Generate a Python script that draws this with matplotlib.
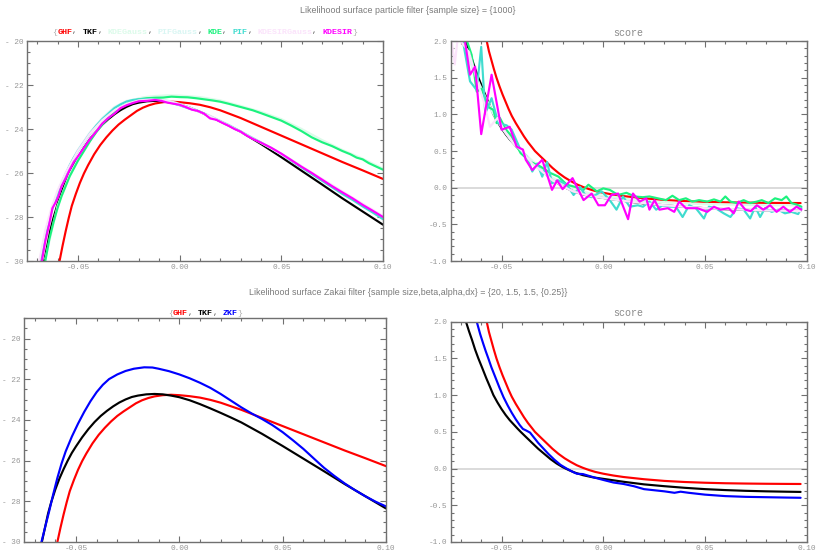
import numpy as np
import matplotlib
matplotlib.use('Agg')
import matplotlib.pyplot as plt
import matplotlib.transforms as mtransforms
from matplotlib.ticker import MultipleLocator, FixedLocator, FixedFormatter

# ---------------- data: likelihood surface (particle filter) ----------------
ghf_x = [-0.059, -0.0575, -0.056, -0.0545, -0.053, -0.051, -0.049, -0.047, -0.045, -0.042, -0.039,
         -0.036, -0.033, -0.030, -0.027, -0.024, -0.021, -0.018, -0.015, -0.012, -0.008, -0.004,
         0.000, 0.005, 0.010, 0.015, 0.020, 0.030, 0.040, 0.050, 0.060, 0.070, 0.080, 0.090, 0.100]
ghf_y = [-30.0, -29.3, -28.65, -28.05, -27.5, -26.95, -26.45, -26.02, -25.65, -25.15, -24.73,
         -24.38, -24.07, -23.8, -23.58, -23.38, -23.18, -23.03, -22.92, -22.84, -22.78, -22.76,
         -22.78, -22.83, -22.9, -23.01, -23.15, -23.5, -23.9, -24.3, -24.7, -25.1, -25.5, -25.88, -26.27]

tkf_x = [-0.0665, -0.065, -0.0635, -0.062, -0.060, -0.058, -0.056, -0.054, -0.052, -0.050, -0.047,
         -0.044, -0.041, -0.038, -0.035, -0.032, -0.029, -0.026, -0.023, -0.020, -0.016, -0.012,
         -0.008, -0.004, 0.000, 0.005, 0.010, 0.015, 0.020, 0.025, 0.030, 0.035, 0.040, 0.045,
         0.050, 0.060, 0.070, 0.080, 0.090, 0.100]
tkf_y = [-30.0, -29.3, -28.6, -28.05, -27.42, -26.88, -26.42, -26.0, -25.62, -25.3, -24.85,
         -24.45, -24.1, -23.8, -23.55, -23.33, -23.14, -22.99, -22.87, -22.8, -22.74, -22.72,
         -22.74, -22.8, -22.88, -23.03, -23.22, -23.43, -23.65, -23.88, -24.12, -24.4, -24.68, -24.98,
         -25.28, -25.9, -26.52, -27.15, -27.75, -28.35]

kdegauss_x = [-0.066, -0.060, -0.054, -0.048, -0.042, -0.036, -0.030, -0.024, -0.018, -0.012, -0.006,
              0.000, 0.010, 0.020, 0.030, 0.040, 0.050, 0.060, 0.070, 0.080, 0.090, 0.100]
kdegauss_y = [-29.9, -27.5, -26.05, -25.05, -24.2, -23.55, -23.05, -22.72, -22.56, -22.5, -22.47,
              -22.48, -22.55, -22.7, -22.95, -23.22, -23.55, -24.0, -24.5, -24.95, -25.35, -25.8]

pifgauss_x = [-0.0685, -0.062, -0.056, -0.050, -0.044, -0.038, -0.032, -0.026, -0.020, -0.014, -0.008,
              -0.002, 0.005, 0.015, 0.025, 0.035, 0.045, 0.055, 0.065, 0.075, 0.085, 0.100]
pifgauss_y = [-29.9, -27.4, -26.0, -24.95, -24.15, -23.5, -23.0, -22.72, -22.62, -22.6, -22.66,
              -22.8, -23.02, -23.4, -23.85, -24.35, -24.85, -25.4, -26.0, -26.6, -27.2, -28.05]

kde_x = [-0.066, -0.064, -0.062, -0.060, -0.058, -0.056, -0.054, -0.052, -0.050, -0.047, -0.044,
         -0.041, -0.038, -0.035, -0.032, -0.029, -0.026, -0.023, -0.020, -0.016, -0.012, -0.008,
         -0.004, 0.000, 0.004, 0.008, 0.012, 0.016, 0.020, 0.024, 0.028, 0.032, 0.036, 0.040,
         0.045, 0.050, 0.055, 0.060, 0.065, 0.070, 0.075, 0.080, 0.084, 0.087, 0.090, 0.093,
         0.096, 0.100]
kde_y = [-30.0, -29.0, -28.25, -27.6, -27.05, -26.6, -26.15, -25.8, -25.45, -25.0, -24.55,
         -24.15, -23.8, -23.5, -23.25, -23.02, -22.85, -22.72, -22.65, -22.6, -22.58, -22.57,
         -22.53, -22.55, -22.56, -22.6, -22.65, -22.7, -22.76, -22.85, -22.95, -23.05, -23.15, -23.28,
         -23.45, -23.62, -23.85, -24.1, -24.38, -24.6, -24.78, -25.0, -25.15, -25.3, -25.38, -25.55,
         -25.68, -25.85]

pif_x = [-0.0685, -0.066, -0.064, -0.062, -0.060, -0.058, -0.056, -0.054, -0.052, -0.050, -0.047,
         -0.044, -0.041, -0.038, -0.035, -0.032, -0.029, -0.026, -0.023, -0.020, -0.016, -0.012,
         -0.009, -0.006, -0.003, 0.000, 0.004, 0.008, 0.012, 0.016, 0.020, 0.024, 0.028, 0.032,
         0.036, 0.040, 0.045, 0.050, 0.055, 0.060, 0.065, 0.070, 0.075, 0.080, 0.085, 0.090,
         0.095, 0.100]
pif_y = [-30.0, -28.85, -28.1, -27.45, -26.95, -26.45, -26.05, -25.65, -25.3, -25.0, -24.6,
         -24.2, -23.85, -23.55, -23.3, -23.05, -22.88, -22.75, -22.68, -22.65, -22.64, -22.66,
         -22.7, -22.78, -22.84, -22.92, -23.05, -23.15, -23.3, -23.48, -23.65, -23.82, -24.02, -24.22,
         -24.42, -24.62, -24.88, -25.15, -25.45, -25.75, -26.05, -26.35, -26.65, -26.95, -27.22, -27.52,
         -27.8, -28.1]

kdesirgauss_x = [-0.069, -0.066, -0.063, -0.060, -0.056, -0.050, -0.044, -0.038, -0.032, -0.026,
                 -0.020, -0.014, -0.008, -0.002, 0.005, 0.015, 0.025, 0.035, 0.045, 0.055, 0.065,
                 0.075, 0.085, 0.100]
kdesirgauss_y = [-30.0, -28.6, -27.6, -26.8, -26.0, -25.0, -24.2, -23.6, -23.15, -22.85,
                 -22.7, -22.66, -22.7, -22.84, -23.05, -23.42, -23.88, -24.38, -24.88, -25.42, -25.98,
                 -26.55, -27.12, -27.95]

kdesir_x = [-0.0677, -0.066, -0.064, -0.0625, -0.061, -0.0595, -0.058, -0.056, -0.054, -0.052, -0.050,
            -0.047, -0.044, -0.041, -0.038, -0.035, -0.032, -0.029, -0.026, -0.023, -0.020, -0.016,
            -0.012, -0.009, -0.006, -0.003, 0.000, 0.003, 0.006, 0.009, 0.012, 0.015, 0.018, 0.021,
            0.024, 0.027, 0.030, 0.033, 0.036, 0.040, 0.045, 0.050, 0.055, 0.060, 0.065, 0.070,
            0.075, 0.080, 0.085, 0.090, 0.095, 0.100]
kdesir_y = [-30.0, -29.1, -28.3, -27.6, -27.35, -27.05, -26.6, -26.25, -25.85, -25.5, -25.25,
            -24.85, -24.45, -24.12, -23.75, -23.5, -23.3, -23.05, -22.92, -22.82, -22.74, -22.72,
            -22.68, -22.72, -22.8, -22.85, -22.9, -23.0, -23.12, -23.18, -23.3, -23.52, -23.58, -23.72,
            -23.85, -24.0, -24.12, -24.3, -24.45, -24.62, -24.85, -25.12, -25.42, -25.72, -26.0, -26.3,
            -26.6, -26.88, -27.15, -27.45, -27.72, -28.0]

# ---------------- data: score (particle filter) ----------------
ghf_s_x = [-0.0573, -0.0562, -0.055, -0.0538, -0.0525, -0.051, -0.0495, -0.048, -0.0465, -0.045,
           -0.043, -0.041, -0.039, -0.037, -0.035, -0.0336, -0.031, -0.028, -0.025, -0.022, -0.019,
           -0.016, -0.013, -0.010, -0.007, -0.004, 0.000, 0.005, 0.010, 0.015, 0.020, 0.030, 0.040,
           0.050, 0.060, 0.070, 0.080, 0.090, 0.097]
ghf_s_y = [2.0, 1.86, 1.74, 1.62, 1.5, 1.38, 1.27, 1.17, 1.07, 0.98,
           0.88, 0.79, 0.7, 0.62, 0.55, 0.5, 0.43, 0.35, 0.27, 0.2, 0.14,
           0.09, 0.045, 0.01, -0.02, -0.045, -0.07, -0.095, -0.115, -0.13, -0.145, -0.168, -0.183,
           -0.193, -0.2, -0.204, -0.207, -0.209, -0.21]

tkf_s_x = [-0.0675, -0.066, -0.0645, -0.063, -0.0614, -0.0595, -0.0575, -0.0555, -0.054, -0.052,
           -0.050, -0.048, -0.046, -0.044, -0.042, -0.0406, -0.038, -0.035, -0.032, -0.029, -0.026,
           -0.023, -0.020, -0.017, -0.014, -0.010, -0.005, 0.000, 0.005, 0.010, 0.020, 0.030, 0.040,
           0.050, 0.060, 0.070, 0.080, 0.090, 0.097]
tkf_s_y = [2.0, 1.87, 1.75, 1.62, 1.5, 1.37, 1.23, 1.1, 1.0, 0.9,
           0.81, 0.73, 0.66, 0.6, 0.54, 0.5, 0.43, 0.35, 0.27, 0.2, 0.13,
           0.07, 0.02, -0.02, -0.055, -0.09, -0.12, -0.14, -0.16, -0.18, -0.215, -0.24, -0.262,
           -0.28, -0.293, -0.303, -0.31, -0.315, -0.318]

kdesir_s_x = [-0.068, -0.0655, -0.063, -0.060, -0.0549, -0.050, -0.046, -0.0426, -0.0395, -0.0381,
              -0.0349, -0.030, -0.0252, -0.0227, -0.020, -0.0151, -0.0097, -0.0057, -0.0024, 0.0008,
              0.004, 0.0073, 0.0122, 0.0146, 0.0179, 0.0211, 0.0227, 0.0252, 0.0276, 0.0317, 0.0349,
              0.0373, 0.0406, 0.0463, 0.0511, 0.0544, 0.0576, 0.0617, 0.0641, 0.0666, 0.0698, 0.0725,
              0.0755, 0.0787, 0.082, 0.0852, 0.0885, 0.0917, 0.095, 0.0974]
kdesir_s_y = [2.0, 1.54, 1.65, 0.73, 1.54, 0.79, 0.83, 0.56, 0.52, 0.38,
              0.24, 0.38, -0.03, 0.10, -0.02, 0.13, -0.17, -0.08, -0.24, -0.24,
              -0.10, -0.08, -0.43, -0.08, -0.19, -0.145, -0.30, -0.17, -0.30, -0.28, -0.33,
              -0.19, -0.28, -0.28, -0.33, -0.26, -0.30, -0.28, -0.35, -0.19, -0.30, -0.32,
              -0.24, -0.30, -0.24, -0.33, -0.26, -0.33, -0.26, -0.30]

pif_s_x = [-0.069, -0.0655, -0.0622, -0.060, -0.058, -0.0549, -0.0516, -0.0475, -0.045, -0.0406,
           -0.0375, -0.0349, -0.0325, -0.030, -0.0276, -0.0252, -0.022, -0.0179, -0.0146, -0.0114,
           -0.0089, -0.0057, -0.0008, 0.0032, 0.0065, 0.0097, 0.013, 0.017, 0.0195, 0.0227, 0.026,
           0.0292, 0.0325, 0.0357, 0.039, 0.0422, 0.0455, 0.0495, 0.0519, 0.0552, 0.0592, 0.0625,
           0.0657, 0.069, 0.0722, 0.0747, 0.0771, 0.0795, 0.0828, 0.086, 0.0893, 0.0925, 0.0958, 0.0974]
pif_s_y = [2.0, 1.45, 1.33, 1.92, 1.01, 1.22, 0.88, 0.85, 0.79, 0.51,
           0.42, 0.22, 0.33, 0.15, 0.35, 0.06, 0.10, 0.04, -0.10, 0.01,
           -0.10, -0.13, -0.05, -0.17, -0.30, -0.12, -0.26, -0.24, -0.26, -0.19, -0.30,
           -0.24, -0.26, -0.26, -0.40, -0.24, -0.28, -0.42, -0.26, -0.28, -0.35, -0.40,
           -0.28, -0.30, -0.42, -0.26, -0.40, -0.28, -0.33, -0.30, -0.35, -0.33, -0.36, -0.28]

kde_s_x = [-0.067, -0.0647, -0.0622, -0.0598, -0.0565, -0.054, -0.0524, -0.0508, -0.048, -0.045,
           -0.0406, -0.0357, -0.031, -0.026, -0.022, -0.0179, -0.0138, -0.0097, -0.0073, -0.0032,
           0.0, 0.0032, 0.0073, 0.0114, 0.0154, 0.0195, 0.0227, 0.0268, 0.0308, 0.034, 0.0373,
           0.0406, 0.0438, 0.0471, 0.0511, 0.0544, 0.0576, 0.060, 0.0625, 0.0657, 0.069, 0.0722,
           0.0755, 0.0779, 0.0812, 0.0844, 0.0877, 0.090, 0.0925, 0.095, 0.0974]
kde_s_y = [2.0, 1.81, 1.31, 1.35, 1.10, 1.06, 0.88, 0.95, 0.80, 0.70,
           0.47, 0.35, 0.29, 0.20, 0.15, 0.04, 0.01, -0.03, 0.04, -0.05,
           -0.01, -0.03, -0.10, -0.07, -0.12, -0.13, -0.12, -0.145, -0.17, -0.11, -0.17,
           -0.145, -0.19, -0.17, -0.19, -0.16, -0.19, -0.12, -0.19, -0.21, -0.17, -0.21,
           -0.19, -0.17, -0.21, -0.145, -0.17, -0.12, -0.21, -0.23, -0.26]

kdesirgauss_s_x = [-0.0745, -0.073, -0.0715, -0.066, -0.062, -0.0585, -0.0557, -0.052, -0.048, -0.044,
                   -0.040, -0.035, -0.030, -0.025, -0.020, -0.015, -0.010, -0.005, 0.0, 0.01, 0.02,
                   0.03, 0.04, 0.05, 0.06, 0.07, 0.08, 0.09, 0.097]
kdesirgauss_s_y = [2.0, 1.68, 2.05, 1.85, 1.45, 1.15, 0.83, 0.95, 0.75, 0.6,
                   0.5, 0.33, 0.22, 0.1, 0.02, -0.05, -0.09, -0.12, -0.14, -0.18, -0.21,
                   -0.24, -0.26, -0.28, -0.29, -0.3, -0.31, -0.315, -0.32]

gauss_s_x = [-0.069, -0.065, -0.061, -0.057, -0.053, -0.049, -0.045, -0.040, -0.035, -0.030, -0.025,
             -0.020, -0.015, -0.010, -0.005, 0.0, 0.01, 0.02, 0.03, 0.04, 0.05, 0.06, 0.07, 0.08,
             0.09, 0.097]
kdegauss_s_y = [2.0, 1.7, 1.42, 1.18, 0.98, 0.8, 0.66, 0.5, 0.37, 0.25, 0.14,
                0.06, 0.0, -0.05, -0.09, -0.11, -0.15, -0.18, -0.2, -0.215, -0.225, -0.23, -0.235, -0.24,
                -0.24, -0.245]
pifgauss_s_y = [2.0, 1.68, 1.4, 1.15, 0.95, 0.78, 0.63, 0.48, 0.35, 0.22, 0.11,
                0.02, -0.04, -0.08, -0.11, -0.14, -0.18, -0.21, -0.24, -0.26, -0.28, -0.29, -0.3, -0.31,
                -0.315, -0.32]

# ---------------- data: Zakai filter ----------------
zkf_x = [-0.0667, -0.065, -0.063, -0.061, -0.059, -0.057, -0.055, -0.052, -0.049, -0.046, -0.043,
         -0.040, -0.037, -0.034, -0.030, -0.026, -0.022, -0.017, -0.013, -0.010, -0.005, 0.000,
         0.005, 0.010, 0.015, 0.020, 0.025, 0.030, 0.035, 0.040, 0.045, 0.050, 0.055, 0.060,
         0.066, 0.070, 0.075, 0.080, 0.085, 0.090, 0.095, 0.100]
zkf_y = [-30.0, -29.3, -28.5, -27.65, -26.85, -26.15, -25.55, -24.82, -24.18, -23.6, -23.08,
         -22.63, -22.27, -21.99, -21.76, -21.59, -21.48, -21.41, -21.42, -21.48, -21.6, -21.76,
         -21.95, -22.17, -22.42, -22.72, -23.05, -23.38, -23.68, -23.95, -24.25, -24.6, -25.0, -25.42,
         -25.98, -26.35, -26.75, -27.12, -27.45, -27.75, -28.02, -28.25]

zkf_s_x = [-0.0622, -0.0605, -0.059, -0.0578, -0.0565, -0.055, -0.053, -0.051, -0.049, -0.047,
           -0.045, -0.043, -0.041, -0.0395, -0.038, -0.036, -0.034, -0.032, -0.030, -0.027, -0.024,
           -0.021, -0.018, -0.015, -0.013, -0.010, -0.007, -0.004, 0.000, 0.005, 0.010, 0.015,
           0.020, 0.025, 0.030, 0.035, 0.038, 0.042, 0.050, 0.060, 0.070, 0.080, 0.090, 0.097]
zkf_s_y = [2.0, 1.83, 1.7, 1.6, 1.5, 1.38, 1.24, 1.1, 0.97, 0.86,
           0.76, 0.67, 0.59, 0.54, 0.52, 0.49, 0.42, 0.35, 0.29, 0.2, 0.12,
           0.05, 0.0, -0.045, -0.07, -0.075, -0.1, -0.125, -0.155, -0.19, -0.21, -0.24,
           -0.28, -0.295, -0.31, -0.33, -0.315, -0.33, -0.355, -0.375, -0.385, -0.39, -0.395, -0.398]

# ---------------- style ----------------
RED = '#ff0000'
BLACK = '#000000'
KDE_C = '#1cf27e'
PIF_C = '#40dccf'
MAG = '#ff00ff'
BLUE = '#0000ff'
PALE_KDE = '#dcfbea'
PALE_PIF = '#d9f6f3'
PALE_MAG = '#fbe3fb'
FRAME = '#707070'
TICKLAB = '#969696'
MONO = 'Liberation Mono'
LW = 1.55
plt.rcParams['lines.solid_joinstyle'] = 'round'
plt.rcParams['lines.solid_capstyle'] = 'round'

fig = plt.figure(figsize=(8.16, 5.52), dpi=100)
fig.set_facecolor('white')
W, H = 816.0, 552.0

ax_tl = fig.add_axes([27 / W, 1 - 261 / H, 356 / W, 220 / H])
ax_tr = fig.add_axes([450.7 / W, 1 - 261 / H, 356 / W, 220 / H])
ax_bl = fig.add_axes([24.3 / W, 1 - 542 / H, 361.7 / W, 223.7 / H])
ax_br = fig.add_axes([450.7 / W, 1 - 542 / H, 356 / W, 220.3 / H])


def style_frame(ax, ylim, ymajor, yminor, ylabels):
    ax.set_xlim(-0.075, 0.10)
    ax.set_ylim(*ylim)
    ax.xaxis.set_major_locator(FixedLocator([-0.05, 0.0, 0.05, 0.10]))
    ax.xaxis.set_major_formatter(FixedFormatter(['-0.05', '0.00', '0.05', '0.10']))
    ax.xaxis.set_minor_locator(MultipleLocator(0.01))
    ax.yaxis.set_major_locator(FixedLocator(ymajor))
    ax.yaxis.set_major_formatter(FixedFormatter(ylabels))
    ax.yaxis.set_minor_locator(MultipleLocator(yminor))
    ax.tick_params(which='both', direction='in', top=True, right=True, color=FRAME, width=0.8)
    ax.tick_params(which='major', length=4, labelsize=5.6, labelcolor=TICKLAB, pad=2.5)
    ax.tick_params(which='minor', length=2)
    for lab in ax.get_xticklabels() + ax.get_yticklabels():
        lab.set_family(MONO)
    for sp in ax.spines.values():
        sp.set_color(FRAME)
        sp.set_linewidth(1.0)


def color_title(ax, pieces, fs, dy_px):
    cw = 0.6 * fs
    total = sum(len(s) for s, _, _ in pieces)
    pos = -total * cw / 2
    for s, c, w in pieces:
        tr = mtransforms.offset_copy(ax.transAxes, fig=fig, x=pos, y=dy_px * 0.72, units='points')
        ax.text(0.5, 1.0, s, transform=tr, color=c, fontweight=w, family=MONO,
                fontsize=fs, ha='left', va='center')
        pos += len(s) * cw


lik_major = [-30, -28, -26, -24, -22, -20]
lik_labels = ['- 30', '- 28', '- 26', '- 24', '- 22', '- 20']
score_major = [-1.0, -0.5, 0.0, 0.5, 1.0, 1.5, 2.0]
score_labels = ['-1.0', '-0.5', '0.0', '0.5', '1.0', '1.5', '2.0']

# top-left: likelihood, particle filter
ax = ax_tl
ax.plot(ghf_x, ghf_y, color=RED, lw=LW)
ax.plot(tkf_x, tkf_y, color=BLACK, lw=LW)
ax.plot(kdegauss_x, kdegauss_y, color=PALE_KDE, lw=LW)
ax.plot(pifgauss_x, pifgauss_y, color=PALE_PIF, lw=LW)
ax.plot(kde_x, kde_y, color=KDE_C, lw=LW)
ax.plot(pif_x, pif_y, color=PIF_C, lw=LW)
ax.plot(kdesirgauss_x, kdesirgauss_y, color=PALE_MAG, lw=LW)
ax.plot(kdesir_x, kdesir_y, color=MAG, lw=LW)
style_frame(ax, (-30, -20), lik_major, 0.5, lik_labels)
sep = '#555555'
brace = '#b0b0b0'
color_title(ax, [('{', brace, 'normal'), ('GHF', RED, 'bold'), (', ', sep, 'normal'),
                 ('TKF', BLACK, 'bold'), (', ', sep, 'normal'),
                 ('KDEGauss', PALE_KDE, 'bold'), (', ', sep, 'normal'),
                 ('PIFGauss', PALE_PIF, 'bold'), (', ', sep, 'normal'),
                 ('KDE', KDE_C, 'bold'), (', ', sep, 'normal'),
                 ('PIF', PIF_C, 'bold'), (', ', sep, 'normal'),
                 ('KDESIRGauss', PALE_MAG, 'bold'), (', ', sep, 'normal'),
                 ('KDESIR', MAG, 'bold'), ('}', brace, 'normal')], 6.0, 9)

# top-right: score, particle filter
ax = ax_tr
ax.axhline(0, color='#d8d8d8', lw=1.3, zorder=0)
ax.plot(ghf_s_x, ghf_s_y, color=RED, lw=LW)
ax.plot(tkf_s_x, tkf_s_y, color=BLACK, lw=LW)
ax.plot(gauss_s_x, kdegauss_s_y, color=PALE_KDE, lw=LW)
ax.plot(gauss_s_x, pifgauss_s_y, color=PALE_PIF, lw=LW)
ax.plot(kde_s_x, kde_s_y, color=KDE_C, lw=LW)
ax.plot(pif_s_x, pif_s_y, color=PIF_C, lw=LW)
ax.plot(kdesirgauss_s_x, kdesirgauss_s_y, color=PALE_MAG, lw=LW)
ax.plot(kdesir_s_x, kdesir_s_y, color=MAG, lw=LW)
style_frame(ax, (-1.0, 2.0), score_major, 0.1, score_labels)
ax.text(0.5, 1.0, 'score', transform=mtransforms.offset_copy(ax.transAxes, fig=fig, y=8.5 * 0.72, units='points'),
        family=MONO, fontsize=7.2, color='#8a8a8a', ha='center', va='center')

# bottom-left: likelihood, Zakai filter
ax = ax_bl
ax.plot(ghf_x, ghf_y, color=RED, lw=LW)
ax.plot(tkf_x, tkf_y, color=BLACK, lw=LW)
ax.plot(zkf_x, zkf_y, color=BLUE, lw=LW)
style_frame(ax, (-30, -19), lik_major, 0.5, lik_labels)
color_title(ax, [('{', brace, 'normal'), ('GHF', RED, 'bold'), (', ', sep, 'normal'),
                 ('TKF', BLACK, 'bold'), (', ', sep, 'normal'),
                 ('ZKF', BLUE, 'bold'), ('}', brace, 'normal')], 6.0, 5)

# bottom-right: score, Zakai filter
ax = ax_br
ax.axhline(0, color='#d8d8d8', lw=1.3, zorder=0)
ax.plot(ghf_s_x, ghf_s_y, color=RED, lw=LW)
ax.plot(tkf_s_x, tkf_s_y, color=BLACK, lw=LW)
ax.plot(zkf_s_x, zkf_s_y, color=BLUE, lw=LW)
style_frame(ax, (-1.0, 2.0), score_major, 0.1, score_labels)
ax.text(0.5, 1.0, 'score', transform=mtransforms.offset_copy(ax.transAxes, fig=fig, y=8.5 * 0.72, units='points'),
        family=MONO, fontsize=7.2, color='#8a8a8a', ha='center', va='center')

fig.text(0.5, 1 - 10.7 / H, 'Likelihood surface particle filter {sample size} = {1000}',
         ha='center', va='center', family='Liberation Sans', fontsize=6.4, color='#7a7a7a')
fig.text(0.5, 1 - 292.3 / H,
         'Likelihood surface Zakai filter {sample size,beta,alpha,dx} = {20, 1.5, 1.5, {0.25}}',
         ha='center', va='center', family='Liberation Sans', fontsize=6.4, color='#7a7a7a')

fig.savefig('out.png', dpi=100, facecolor='white')
